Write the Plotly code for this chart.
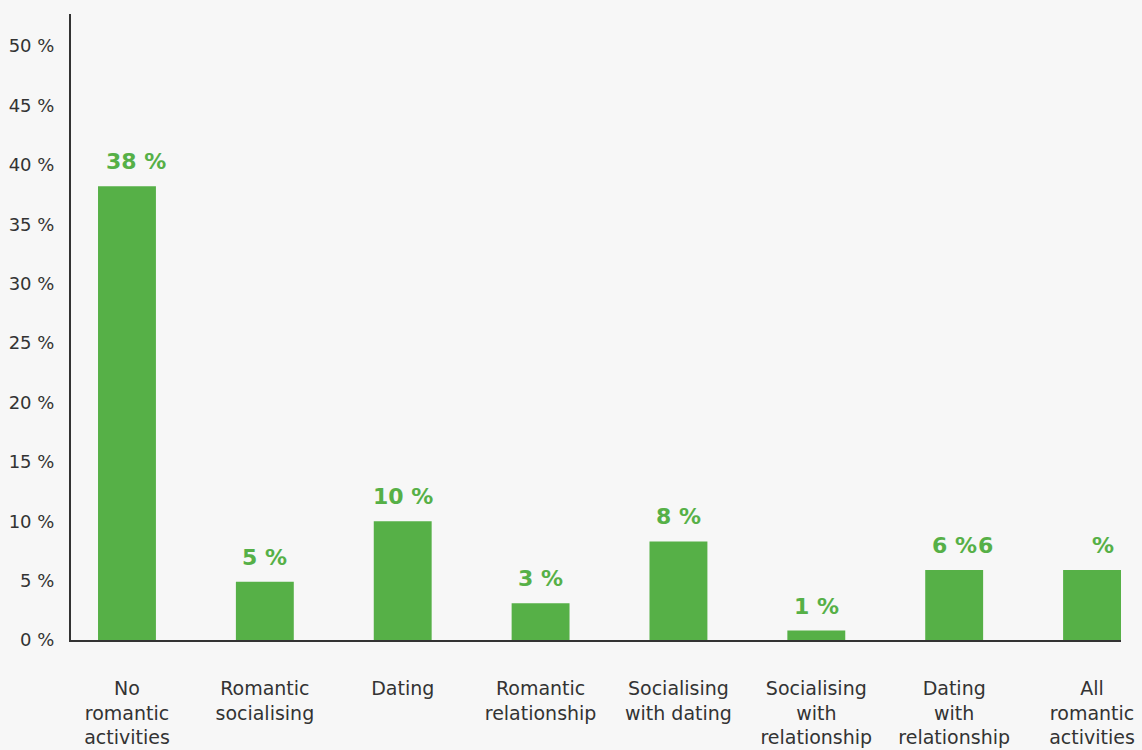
import plotly.graph_objects as go

# Share of respondents by romantic activity profile
categories = [
    "No<br>romantic<br>activities",
    "Romantic<br>socialising",
    "Dating",
    "Romantic<br>relationship",
    "Socialising<br>with dating",
    "Socialising<br>with<br>relationship",
    "Dating<br>with<br>relationship",
    "All<br>romantic<br>activities",
]
shares = [38.2, 4.9, 10.0, 3.1, 8.3, 0.8, 5.9, 5.9]
y_ticks = [0, 5, 10, 15, 20, 25, 30, 35, 40, 45, 50]
y_tick_labels = [f"{t} %" for t in y_ticks]

GREEN = "#56b047"
TEXT = "#333333"
BG = "#f7f7f7"
FONT = "DejaVu Sans"

xs = list(range(len(categories)))

fig = go.Figure(
    go.Bar(
        x=xs,
        y=shares,
        marker=dict(color=GREEN, line=dict(width=0)),
        width=0.42,
        hoverinfo="skip",
    )
)

# Value labels above the bars
label_font = dict(family=FONT, size=22, color=GREEN, weight="bold")
annotations = []
for i, v in enumerate(shares):
    label = f"{round(v)} %"
    xshift = 0
    if i == 0:
        xshift = 9
    if i == len(shares) - 1:
        # last label renders with its digit pushed against the neighbouring label
        label = "%"
        annotations.append(dict(
            x=i, y=v, xref="x", yref="y", text=f"{round(v)}",
            showarrow=False, yanchor="bottom", xanchor="center",
            xshift=-107, yshift=10, font=label_font,
        ))
        xshift = 11
    annotations.append(dict(
        x=i, y=v, xref="x", yref="y", text=label,
        showarrow=False, yanchor="bottom", xanchor="center",
        xshift=xshift, yshift=10, font=label_font,
    ))

fig.update_layout(
    width=1142,
    height=750,
    margin=dict(l=71, r=21, t=14, b=110),
    paper_bgcolor=BG,
    plot_bgcolor=BG,
    showlegend=False,
    font=dict(family=FONT, color=TEXT),
    annotations=annotations,
    xaxis=dict(
        range=[-0.406, 7.21],
        tickmode="array",
        tickvals=xs,
        ticktext=categories,
        showgrid=False,
        zeroline=False,
        showline=True,
        linecolor=TEXT,
        linewidth=2,
        ticks="",
        ticklabelstandoff=30,
        automargin=False,
        tickfont=dict(family=FONT, size=19, color=TEXT),
        fixedrange=True,
    ),
    yaxis=dict(
        range=[0, 52.7],
        tickmode="array",
        tickvals=y_ticks,
        ticktext=y_tick_labels,
        showgrid=False,
        zeroline=False,
        showline=True,
        linecolor=TEXT,
        linewidth=2,
        ticks="",
        ticklabelstandoff=11,
        automargin=False,
        tickfont=dict(family=FONT, size=18, color=TEXT),
        fixedrange=True,
    ),
)

fig.write_html("out.html", config={"displayModeBar": False})
